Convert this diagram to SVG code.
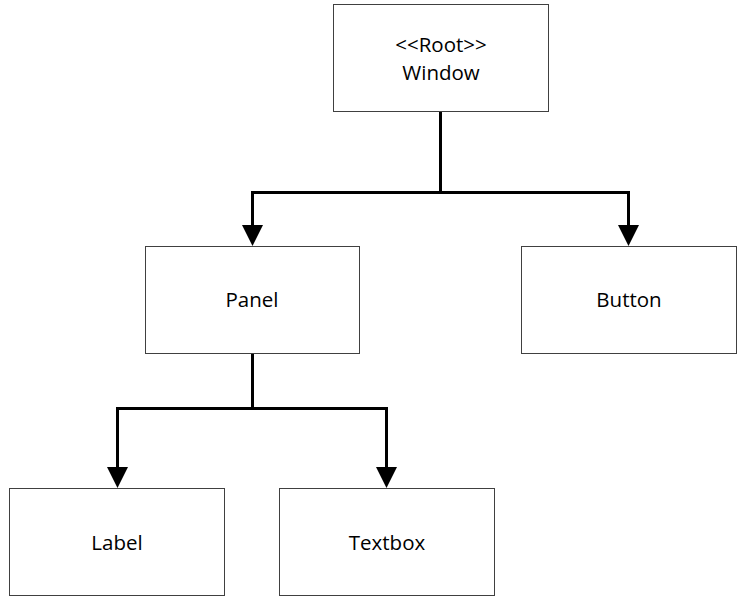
<svg xmlns="http://www.w3.org/2000/svg" width="748" height="613" viewBox="0 0 748 613">
<defs>
<polygon id="ah" points="-10.5,-21 10.5,-21 0,0" fill="#000"/>
</defs>
<style>
.box{fill:#fff;stroke:#404040;stroke-width:1}
.t{font-family:"Open Sans","Segoe UI",sans-serif;font-size:20.5px;fill:#000;text-anchor:middle}
.c{fill:none;stroke:#000;stroke-width:3}
</style>
<rect width="748" height="613" fill="#fff"/>
<g id="connectors">
<path class="c" d="M440.5,112 V192.5 H252.5 V226"/>
<path class="c" d="M440.5,192.5 H628.5 V226"/>
<use href="#ah" x="252.5" y="246"/>
<use href="#ah" x="628.5" y="246"/>
<path class="c" d="M252.5,354 V408.5 H117.5 V468"/>
<path class="c" d="M252.5,408.5 H386.5 V468"/>
<use href="#ah" x="117.5" y="488"/>
<use href="#ah" x="386.5" y="488"/>
</g>
<g id="window">
<rect class="box" x="333.5" y="4.5" width="215" height="107"/>
<text class="t" x="441" y="52">&lt;&lt;Root&gt;&gt;</text>
<text class="t" x="441" y="80">Window</text>
</g>
<g id="panel">
<rect class="box" x="145.5" y="246.5" width="214" height="107"/>
<text class="t" x="252" y="307">Panel</text>
</g>
<g id="button">
<rect class="box" x="521.5" y="246.5" width="215" height="107"/>
<text class="t" x="629" y="307">Button</text>
</g>
<g id="label">
<rect class="box" x="9.5" y="488.5" width="215" height="107"/>
<text class="t" x="117" y="550">Label</text>
</g>
<g id="textbox">
<rect class="box" x="279.5" y="488.5" width="215" height="107"/>
<text class="t" x="387" y="550">Textbox</text>
</g>
</svg>
